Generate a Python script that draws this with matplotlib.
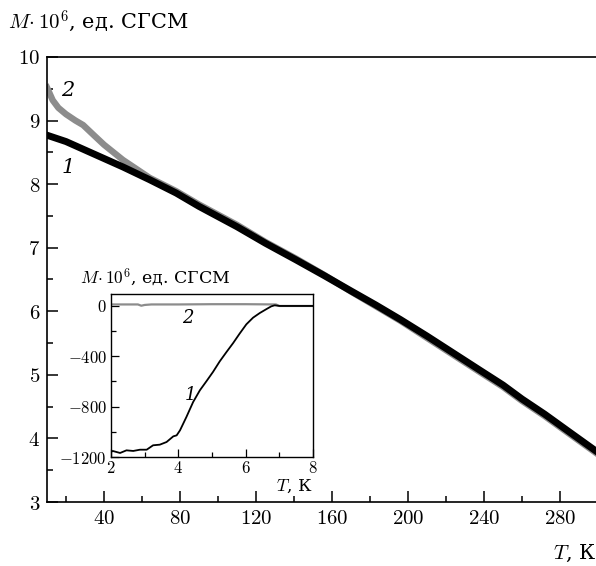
import matplotlib
matplotlib.use("Agg")
import matplotlib.pyplot as plt
from matplotlib.ticker import FixedLocator, FixedFormatter, MultipleLocator

plt.rcParams['mathtext.fontset'] = 'cm'
plt.rcParams['font.family'] = ['DejaVu Serif']

# ---- main data (T, K ; M*1e6) ----
T1 = [10, 20, 29, 38, 50, 64, 78, 90, 110, 125, 141, 156, 170, 183, 196, 210, 224, 238, 250, 260, 272, 285, 299]
M1 = [8.77, 8.67, 8.55, 8.43, 8.27, 8.07, 7.86, 7.65, 7.33, 7.07, 6.81, 6.56, 6.32, 6.10, 5.87, 5.61, 5.34, 5.07, 4.84, 4.62, 4.38, 4.10, 3.80]
T2 = [10, 13, 16, 20, 25, 29, 35, 40, 45, 50, 64, 78, 90, 110, 125, 141, 156, 170, 183, 196, 210, 224, 238, 250, 260, 272, 285, 299]
M2 = [9.52, 9.32, 9.20, 9.10, 9.00, 8.93, 8.76, 8.62, 8.50, 8.38, 8.10, 7.89, 7.68, 7.36, 7.09, 6.83, 6.57, 6.31, 6.08, 5.85, 5.58, 5.31, 5.04, 4.81, 4.59, 4.35, 4.07, 3.77]

x_major = [40, 80, 120, 160, 200, 240, 280]
x_minor = [20, 60, 100, 140, 180, 220, 260, 300]
y_major = [3, 4, 5, 6, 7, 8, 9, 10]

# ---- inset data ----
t1 = [2.0, 2.05, 2.27, 2.46, 2.66, 2.86, 3.06, 3.25, 3.45, 3.65, 3.85, 3.95, 4.05, 4.24, 4.44, 4.64,
      4.84, 5.03, 5.23, 5.43, 5.63, 5.82, 6.02, 6.22, 6.42, 6.61, 6.76, 6.86, 7.01, 8.0]
m1 = [-1160, -1152, -1168, -1147, -1152, -1142, -1142, -1107, -1102, -1081, -1036, -1028, -988, -882, -763, -670,
      -596, -524, -440, -366, -294, -220, -146, -93, -56, -26, -3, 5, 0, 0]
t2 = [2.0, 2.8, 2.9, 3.0, 3.2, 4.0, 5.0, 6.0, 6.9, 7.0, 8.0]
m2 = [12, 12, 2, 8, 12, 12, 14, 14, 12, 0, 0]

fig = plt.figure(figsize=(5.96, 5.66), dpi=100)
ax = fig.add_axes([47/596, 1-502/566, (598-47)/596, (502-57)/566])
ax.plot(T2, M2, color='#8c8c8c', lw=4.6, solid_joinstyle='round')
ax.plot(T1, M1, color='black', lw=5.0, solid_joinstyle='round')
ax.set_xlim(10, 300)
ax.set_ylim(3, 10)
ax.xaxis.set_major_locator(FixedLocator(x_major))
ax.xaxis.set_major_formatter(FixedFormatter(['$%d$' % v for v in x_major]))
ax.xaxis.set_minor_locator(FixedLocator(x_minor))
ax.yaxis.set_major_locator(FixedLocator(y_major))
ax.yaxis.set_major_formatter(FixedFormatter(['$%d$' % v for v in y_major]))
ax.yaxis.set_minor_locator(MultipleLocator(0.5))
ax.tick_params(which='both', direction='in', top=False, right=False, width=1.1, labelsize=15, pad=5)
ax.tick_params(which='major', length=8)
ax.tick_params(which='minor', length=4.5)
for s in ax.spines.values():
    s.set_linewidth(1.2)
ax.spines['right'].set_visible(False)

ax.text(21, 9.48, '2', fontsize=15, style='italic', ha='center', va='center')
ax.text(21, 8.26, '1', fontsize=15, style='italic', ha='center', va='center')

fig.text(8/596, 1-22/566, r'$M\!\cdot 10^6$, ед. СГСМ', fontsize=15, ha='left', va='center')
fig.text(596/596, 1-553/566, r'$T$, К', fontsize=15, ha='right', va='center')

# ---- inset ----
ins = fig.add_axes([111/596, 1-457/566, (313-111)/596, (457-294)/566])
ins.plot(t2, m2, color='#8c8c8c', lw=1.6)
ins.plot(t1, m1, color='black', lw=1.3)
ins.set_xlim(2, 8)
ins.set_ylim(-1200, 95)
ins.xaxis.set_major_locator(FixedLocator([2, 4, 6, 8]))
ins.xaxis.set_major_formatter(FixedFormatter(['$2$', '$4$', '$6$', '$8$']))
ins.xaxis.set_minor_locator(FixedLocator([3, 5, 7]))
ins.yaxis.set_major_locator(FixedLocator([0, -400, -800, -1200]))
ins.yaxis.set_major_formatter(FixedFormatter(['$0$', '$-400$', '$-800$', '$-1200$']))
ins.yaxis.set_minor_locator(FixedLocator([-200, -600, -1000]))
ins.tick_params(which='both', direction='in', top=False, right=False, width=0.9, labelsize=12, pad=3)
ins.tick_params(axis='x', pad=2)
ins.tick_params(which='major', length=6)
ins.tick_params(which='minor', length=3.5)
for s in ins.spines.values():
    s.set_linewidth(1.0)
ins.text(4.27, -93, '2', fontsize=13, style='italic', ha='center', va='center')
ins.text(4.35, -705, '1', fontsize=13, style='italic', ha='center', va='center')
fig.text(80/596, 1-277/566, r'$M\!\cdot 10^6$, ед. СГСМ', fontsize=12.5, ha='left', va='center')
fig.text(313/596, 1-478/566, r'$T$, К', fontsize=12.5, ha='right', va='top')

fig.savefig('out.png', dpi=100)
